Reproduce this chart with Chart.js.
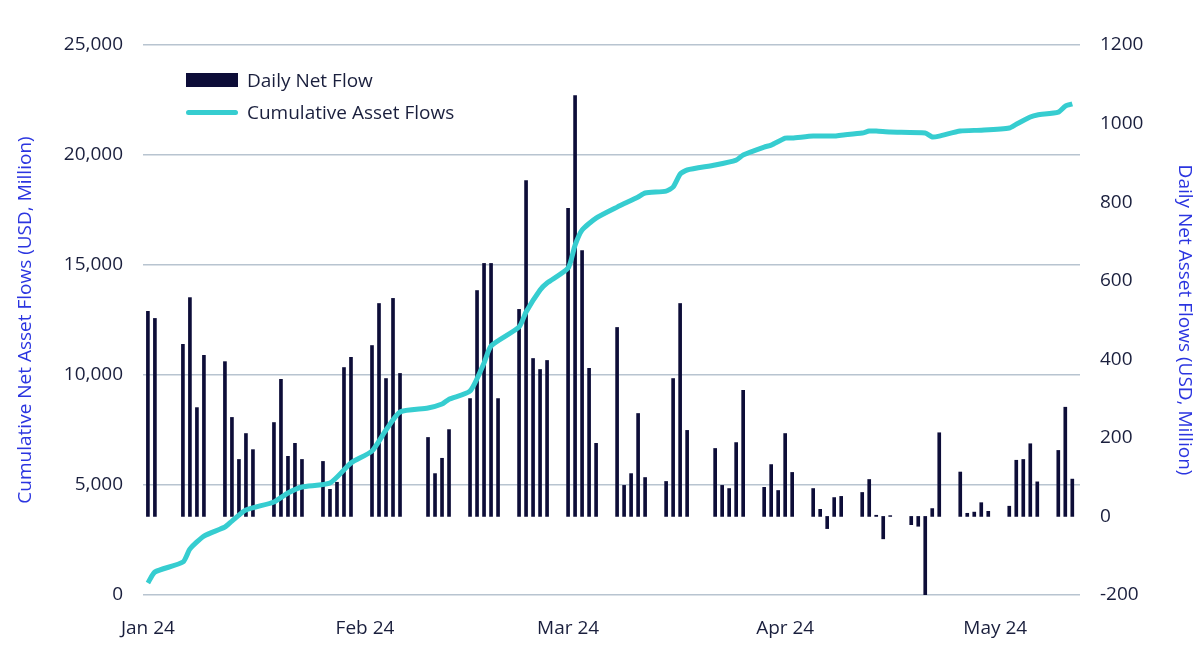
<!DOCTYPE html>
<html>
<head>
<meta charset="utf-8">
<script src="https://cdn.jsdelivr.net/npm/chart.js@4/dist/chart.umd.min.js"></script>
<style>
  body { margin: 0; background: #fff; font-family: "Open Sans", sans-serif; }
  #wrap { position: relative; width: 1200px; height: 656px; }
  #legend { position: absolute; left: 186px; top: 64px; font-size: 19px; color: #1a1f3d; font-family: "Open Sans", sans-serif; }
  .item { display: flex; align-items: center; height: 32px; }
  .sw-bar { width: 52px; height: 14px; background: #0d0d38; margin-right: 9px; }
  .sw-line { width: 52px; height: 5px; background: #36cdd0; border-radius: 3px; margin-right: 9px; }
</style>
</head>
<body>
<div id="wrap">
  <canvas id="chart" width="1200" height="656"></canvas>
  <div id="legend">
    <div class="item"><span class="sw-bar"></span>Daily Net Flow</div>
    <div class="item"><span class="sw-line"></span>Cumulative Asset Flows</div>
  </div>
</div>
<script>
// day index (0 = 1 Jan 2024)
const days = [0,1,5,6,7,8,11,12,13,14,15,18,19,20,21,22,25,26,27,28,29,32,33,34,35,36,40,41,42,43,46,47,48,49,50,53,54,55,56,57,60,61,62,63,64,67,68,69,70,71,74,75,76,77,81,82,83,84,85,88,89,90,91,92,95,96,97,98,99,102,103,104,105,106,109,110,111,112,113,116,117,118,119,120,123,124,125,126,127,130,131,132];
const dailyFlow = [522,504,438,557,277,410,394,252,145,211,170,239,349,153,186,145,140,69,87,379,405,435,542,351,555,364,201,109,148,221,300,575,644,644,300,527,855,402,374,397,784,1071,677,377,186,481,79,109,262,99,89,351,542,219,173,79,71,188,321,74,132,66,211,112,71,18,-31,48,51,61,94,3,-57,2,-21,-25,-200,20,213,113,8,11,35,13,26,143,145,185,88,168,278,95];

const cumDays = [0,1,5,6,8,11,12,14,18,20,22,26,29,32,34,36,40,42,43,46,48,49,53,54,56,57,60,61,62,64,67,70,71,74,75,76,77,81,84,85,88,89,91,92,95,98,99,102,103,104,106,111,112,113,116,119,123,124,126,127,130,131,132];
const cumFlow = [545,1045,1500,2090,2680,3090,3360,3860,4230,4640,4910,5090,6000,6545,7500,8320,8500,8680,8900,9270,10545,11320,12180,12860,13860,14180,14860,15900,16590,17130,17630,18090,18270,18360,18545,19130,19320,19545,19770,20000,20360,20450,20770,20770,20860,20860,20900,21000,21090,21090,21045,21000,20820,20860,21090,21130,21230,21400,21725,21820,21950,22225,22320];

const monthTicks = [0, 31, 60, 91, 121];
const monthLabels = ['Jan 24', 'Feb 24', 'Mar 24', 'Apr 24', 'May 24'];

const tickFont = { family: '"Open Sans", sans-serif', size: 19 };
const titleFont = { family: '"Open Sans", sans-serif', size: 19 };
const navy = '#1a1f3d';
const blue = '#2b35e0';

new Chart(document.getElementById('chart'), {
  data: {
    datasets: [
      {
        type: 'line',
        label: 'Cumulative Asset Flows',
        data: cumDays.map((d, i) => ({ x: d, y: cumFlow[i] })),
        borderColor: '#36cdd0',
        borderWidth: 5,
        pointRadius: 0,
        tension: 0.2,
        yAxisID: 'y',
        order: 0
      },
      {
        type: 'bar',
        label: 'Daily Net Flow',
        data: days.map((d, i) => ({ x: d, y: dailyFlow[i] })),
        backgroundColor: '#0d0d38',
        barThickness: 3,
        yAxisID: 'y1',
        order: 1
      }
    ]
  },
  options: {
    responsive: false,
    animation: false,
    layout: { padding: { top: 45, left: 10, right: 0, bottom: 0 } },
    plugins: { legend: { display: false }, tooltip: { enabled: false } },
    scales: {
      x: {
        type: 'linear',
        offset: false,
        min: -0.7,
        max: 133.1,
        grid: { display: false, offset: false },
        border: { display: false },
        afterBuildTicks: (s) => { s.ticks = monthTicks.map(v => ({ value: v })); },
        ticks: {
          autoSkip: false, maxRotation: 0, padding: 14,
          font: tickFont, color: navy,
          callback: (v) => monthLabels[monthTicks.indexOf(v)]
        },
        afterFit: (s) => { s.height = 61; }
      },
      y: {
        position: 'left',
        min: 0, max: 25000,
        ticks: { stepSize: 5000, font: tickFont, color: navy, padding: 20,
          callback: (v) => v.toLocaleString('en-US') },
        grid: { color: '#b8c4d0', lineWidth: 1.5, drawTicks: false },
        border: { display: false },
        title: { display: true, text: 'Cumulative Net Asset Flows (USD, Million)', color: blue, font: titleFont },
        afterFit: (s) => { s.width = 133; }
      },
      y1: {
        position: 'right',
        min: -200, max: 1200,
        ticks: { stepSize: 200, font: tickFont, color: navy, padding: 20,
          callback: (v) => String(v) },
        grid: { display: false, drawTicks: false },
        border: { display: false },
        title: { display: true, text: 'Daily Net Asset Flows (USD, Million)', color: blue, font: titleFont },
        afterFit: (s) => { s.width = 120; }
      }
    }
  }
});
</script>
</body>
</html>
